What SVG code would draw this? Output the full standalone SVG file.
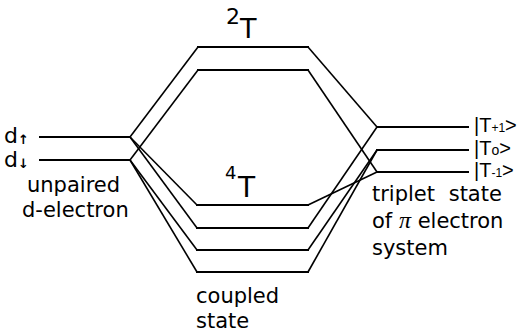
<svg xmlns="http://www.w3.org/2000/svg" width="520" height="335" viewBox="0 0 520 335">
<style>
.lv{stroke:#000;stroke-width:2;fill:none;stroke-linecap:square}
.cn{stroke:#000;stroke-width:1.6;fill:none}
text{font-family:"DejaVu Sans","Liberation Sans",sans-serif;fill:#000}
.lb{font-size:21px}
.st{font-family:"Liberation Sans",sans-serif;font-size:20px}
.dl{font-size:22px}
</style>
<rect width="520" height="335" fill="#fff"/>
<g id="connectors">
<path class="cn" d="M130,137 L198,47"/>
<path class="cn" d="M130,160 L198,70"/>
<path class="cn" d="M130,137 L197,205"/>
<path class="cn" d="M130,137 L197,228"/>
<path class="cn" d="M130,160 L197,250"/>
<path class="cn" d="M130,160 L197,272"/>
<path class="cn" d="M308,47 L377,127"/>
<path class="cn" d="M308,70 L377,172"/>
<path class="cn" d="M308,205 L377,172"/>
<path class="cn" d="M308,228 L377,127"/>
<path class="cn" d="M308,250 L377,150"/>
<path class="cn" d="M308,272 L377,150"/>
</g>
<g id="d-up"><path class="lv" d="M40,137 H130"/><text class="dl" x="4" y="143">d<tspan font-size="13" font-weight="bold" dy="1">↑</tspan></text></g>
<g id="d-down"><path class="lv" d="M40,160 H130"/><text class="dl" x="4" y="167">d<tspan font-size="13" font-weight="bold" dy="1">↓</tspan></text></g>
<g id="unpaired"><text class="lb" x="27" y="192">unpaired</text><text class="lb" x="22" y="217">d-electron</text></g>
<g id="T2-outer"><path class="lv" d="M198,47 H308"/></g>
<g id="T2-inner"><path class="lv" d="M198,70 H308"/></g>
<g id="label-2T"><text x="226" y="24" font-size="22">2</text><text x="240" y="38" font-size="27">T</text></g>
<g id="label-4T"><text x="225" y="179" font-size="18">4</text><text x="238" y="197" font-size="28">T</text></g>
<g id="c1"><path class="lv" d="M197,205 H308"/></g>
<g id="c2"><path class="lv" d="M197,228 H308"/></g>
<g id="c3"><path class="lv" d="M197,250 H308"/></g>
<g id="c4"><path class="lv" d="M197,272 H308"/></g>
<g id="coupled"><text class="lb" x="196" y="303">coupled</text><text class="lb" x="196" y="328">state</text></g>
<g id="Tp1"><path class="lv" d="M377,127 H468"/><text class="st" x="474" y="132">|T<tspan font-size="12">+1</tspan>&gt;</text></g>
<g id="T0"><path class="lv" d="M377,150 H468"/><text class="st" x="474" y="155">|T<tspan font-size="14">o</tspan>&gt;</text></g>
<g id="Tm1"><path class="lv" d="M377,172 H468"/><text class="st" x="474" y="177">|T<tspan font-size="12">-1</tspan>&gt;</text></g>
<g id="triplet"><text class="lb" x="372" y="201" word-spacing="7">triplet state</text><text class="lb" x="372" y="228">of <tspan font-family="Liberation Serif,serif" font-style="italic" font-size="24">π</tspan> electron</text><text class="lb" x="372" y="255">system</text></g>
</svg>
